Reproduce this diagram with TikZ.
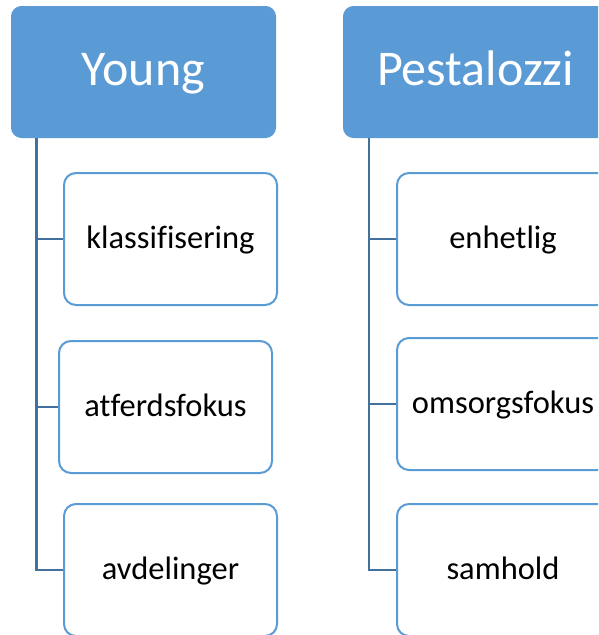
\documentclass[tikz,border=0pt]{standalone}
\usepackage{fontspec}
\setmainfont{Carlito}[Ligatures=NoCommon]
\definecolor{headblue}{HTML}{5B9BD5}
\definecolor{edgeblue}{HTML}{5B9BD5}
\definecolor{linkblue}{HTML}{41719C}
\begin{document}
\begin{tikzpicture}[x=1pt,y=-1pt,
  header/.style={draw=headblue, fill=headblue, rounded corners=10pt, line width=1pt,
    anchor=north west, minimum width=264pt, minimum height=131pt,
    text=white, font=\fontsize{50}{56}\selectfont, inner sep=0pt,
    text height=27pt, text depth=0pt},
  item/.style={draw=edgeblue, fill=white, rounded corners=12pt, line width=2pt,
    anchor=north west, minimum width=213pt, minimum height=132pt,
    text=black, font=\fontsize{32.5}{38}\selectfont, inner sep=0pt,
    text height=18pt, text depth=0pt},
  link/.style={draw=linkblue, line width=2.2pt}]
\clip (0,0) rectangle (598,635);
\fill[white] (0,0) rectangle (598,635);

% column headers
\node[header] (young) at (11,6) {Young};
\node[header] (pest) at (343,6) {Pestalozzi};

% left column items
\node[item] (k) at (63,172) {klassifisering};
\node[item] (a) at (58,340) {atferdsfokus};
\node[item] (v) at (63,503) {avdelinger};

% right column items
\node[item, minimum width=212pt] (e) at (396,172) {enhetlig};
\node[item, minimum width=212pt] (o) at (396,337) {omsorgsfokus};
\node[item, minimum width=212pt] (s) at (396,503) {samhold};

% spines leaving the headers
\coordinate (ls) at (young.south west -| 36.5,0);
\coordinate (rs) at (pest.south west -| 369,0);

\draw[link] (ls) |- (k.west);
\draw[link] (ls) |- (a.west);
\draw[link] (ls) |- (v.west);
\draw[link] (rs) |- (e.west);
\draw[link] (rs) |- (o.west);
\draw[link] (rs) |- (s.west);
\end{tikzpicture}
\end{document}
